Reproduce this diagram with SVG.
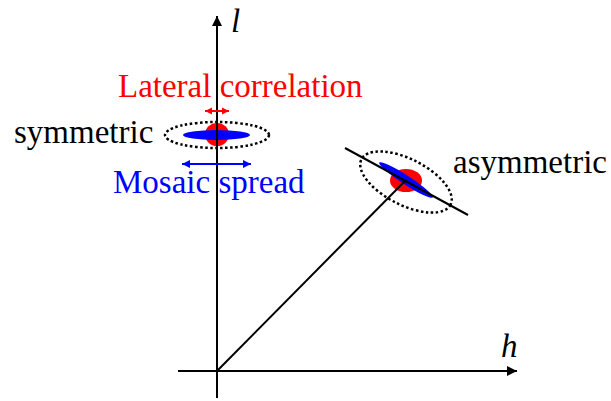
<svg xmlns="http://www.w3.org/2000/svg" width="611" height="401" viewBox="0 0 611 401">
  <defs>
    <marker id="axhead" viewBox="0 0 10 10" refX="10" refY="5" markerWidth="10" markerHeight="10" markerUnits="userSpaceOnUse" orient="auto">
      <path d="M0,0 L10,5 L0,10 Z" fill="#000"/>
    </marker>
    <marker id="redhead" viewBox="0 0 10 10" refX="10" refY="5" markerWidth="7" markerHeight="8" markerUnits="userSpaceOnUse" orient="auto-start-reverse">
      <path d="M0,0 L10,5 L0,10 Z" fill="#ff0000"/>
    </marker>
    <marker id="bluehead" viewBox="0 0 10 10" refX="10" refY="5" markerWidth="8" markerHeight="8" markerUnits="userSpaceOnUse" orient="auto-start-reverse">
      <path d="M0,0 L10,5 L0,10 Z" fill="#0000ff"/>
    </marker>
    <style>
      .ax { stroke: #000; stroke-width: 2; fill: none; }
      .dot { stroke: #000; stroke-width: 2.5; stroke-dasharray: 2.5 2.5; fill: none; }
      .red { fill: #ff0000; }
      .blue { fill: #0000ff; }
    </style>
  </defs>

  <g id="symmetric">
    <ellipse class="dot" cx="217" cy="135" rx="52" ry="13"/>
    <ellipse class="red" cx="217" cy="134.5" rx="12" ry="11.5"/>
    <ellipse class="blue" cx="216.5" cy="135" rx="33.5" ry="5"/>
    <text transform="translate(14 143) scale(1.1)" font-family="'Liberation Serif', serif" font-size="30">symmetric</text>
  </g>

  <g id="asymmetric">
    <ellipse class="dot" cx="406" cy="182" rx="50" ry="23" transform="rotate(27 406 182)"/>
    <ellipse class="red" cx="406" cy="180.5" rx="16" ry="11.5"/>
    <ellipse class="blue" cx="406" cy="180" rx="32" ry="4.5" transform="rotate(33 406 180)"/>
    <text transform="translate(453 173) scale(1.1)" font-family="'Liberation Serif', serif" font-size="30">asymmetric</text>
  </g>

  <g id="lateral-correlation">
    <text transform="translate(118 97) scale(1.1)" fill="#ff0000" font-family="'Liberation Serif', serif" font-size="30">Lateral correlation</text>
  </g>

  <g id="mosaic-spread">
    <text transform="translate(113 193) scale(1.1)" fill="#0000ff" font-family="'Liberation Serif', serif" font-size="30">Mosaic spread</text>
  </g>

  <g id="axis-labels">
    <text transform="translate(231 32) scale(1.1)" font-style="italic" font-family="'Liberation Serif', serif" font-size="30">l</text>
    <text transform="translate(501 357) scale(1.1)" font-style="italic" font-family="'Liberation Serif', serif" font-size="30">h</text>
  </g>

  <g id="connectors">
    <line class="ax" x1="217" y1="398" x2="217" y2="16" marker-end="url(#axhead)"/>
    <line class="ax" x1="178" y1="371" x2="517" y2="371" marker-end="url(#axhead)"/>
    <line class="ax" x1="217" y1="371" x2="406" y2="180"/>
    <line class="ax" x1="345" y1="148" x2="468" y2="215"/>
    <line x1="205" y1="111" x2="229" y2="111" stroke="#ff0000" stroke-width="2" marker-start="url(#redhead)" marker-end="url(#redhead)"/>
    <line x1="182" y1="164" x2="251" y2="164" stroke="#0000ff" stroke-width="2" marker-start="url(#bluehead)" marker-end="url(#bluehead)"/>
  </g>
</svg>
